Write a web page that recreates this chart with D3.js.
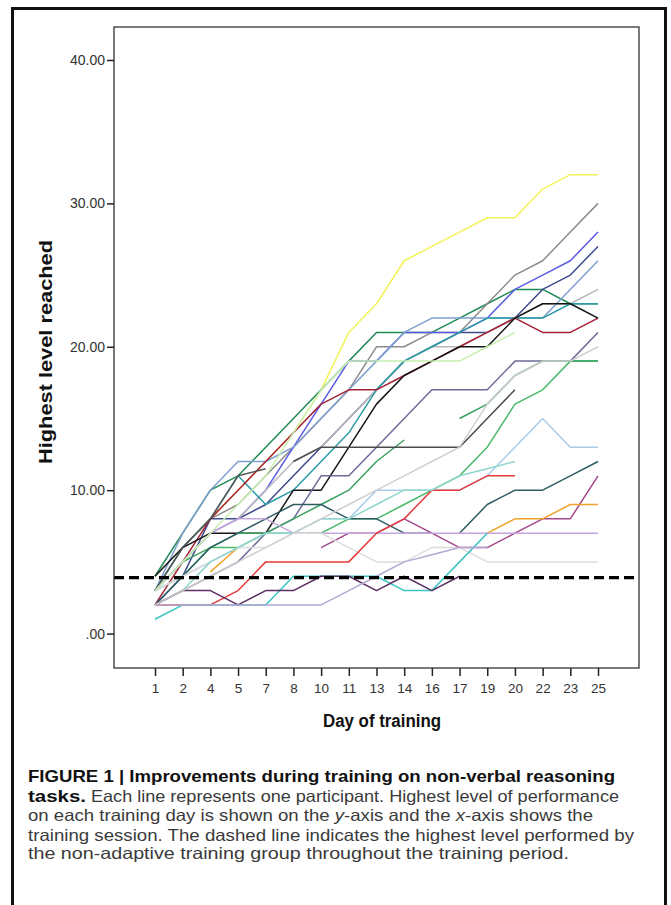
<!DOCTYPE html>
<html><head><meta charset="utf-8">
<script src="https://cdn.jsdelivr.net/npm/d3@7"></script>
<style>
html,body{margin:0;padding:0;background:#fff;}
svg{display:block;}
</style></head>
<body>
<script>
// ---- data ----
const days = [1,2,4,5,7,8,10,11,13,14,16,17,19,20,22,23,25];
const yTicks = [0,10,20,30,40];
const dashedLevel = 3.9;
const N = null;
const seriesNames = ["p01","p02","p03","p04","p05","p06","p07","p08","p09","p10","p11","p12","p13","p14","p15","p16","p17","p18","p19","p20","p21","p22","p23","p24","p25","p26","p27","p28","p29"];
const seriesColors = ["#f2f25a","#1f8a55","#8c8c8c","#5b5be6","#3e4a8c","#7f9fcf","#b8b8b8","#2b9ca6","#a52035","#151515","#6c6c9a","#48b868","#3aa060","#a9cbe9","#2d5c63","#2d5c63","#a3478c","#f0a22a","#c4a6dc","#dcdcdc","#e63a3a","#8fd6cc","#4a4a4a","#3cc3c3","#5a2f62","#b7a7d3","#555555","#c8eeb0","#cfcfcf"];
const seriesValues = [
  [3,6,8,10,12,14,17,21,23,26,27,28,29,29,31,32,32],
  [4,7,10,11,13,15,17,19,21,21,21,22,23,24,24,23,23],
  [3,6,8,9,11,13,15,17,20,20,21,21,23,25,26,28,30],
  [3,5,7,8,10,13,16,19,19,21,21,21,22,24,25,26,28],
  [2,4,8,8,9,11,13,15,17,19,20,21,21,22,24,25,27],
  [3,7,10,12,12,13,15,17,19,21,22,22,22,22,22,24,26],
  [3,5,7,8,10,12,13,15,17,19,20,20,21,22,23,23,24],
  [3,6,8,11,9,10,12,14,17,19,20,21,22,22,22,23,23],
  [2,5,8,10,12,14,16,17,17,18,19,20,21,22,21,21,22],
  [4,6,7,7,7,10,10,13,16,18,19,20,20,22,23,23,22],
  [2,3,4,5,7,8,11,11,13,15,17,17,17,19,19,19,21],
  [3,4,6,6,7,7,7,8,8,9,10,11,13,16,17,19,19],
  [3,5,6,7,7,8,9,10,12,13.5,N,15,16,18,19,19,19],
  [3,4,5,6,7,7,8,8,10,10,10,10,11,13,15,13,13],
  [2,4,6,7,8,9,9,8,8,7,7,N,N,N,N,N,N],
  [N,N,N,N,N,N,N,N,N,N,N,7,9,10,10,11,12],
  [N,N,N,N,N,N,6,7,7,8,7,6,6,7,8,8,11],
  [N,N,4.3,6,N,N,N,N,N,N,N,N,7,8,8,9,9],
  [3,5,7,8,8,7,7,7,7,7,7,7,7,7,7,7,7],
  [3,4,5,6,6,7,7,6,5,5,6,6,5,5,5,5,5],
  [2,2,2,3,5,5,5,5,7,8,10,10,11,11,N,N,N],
  [2,3,5,6,7,7,8,8,9,10,10,11,11.5,12,N,N,N],
  [N,N,N,N,N,12,13,13,13,13,13,13,15,17,N,N,N],
  [1,2,2,2,2,4,4,4,4,3,3,5,7,N,N,N,N],
  [2,3,3,2,3,3,4,4,3,4,3,4,N,N,N,N,N],
  [2,2,2,2,2,2,2,3,4,5,5.5,6,6,N,N,N,N],
  [3,6,8,11,11.5,N,N,N,N,N,N,N,N,N,N,N,N],
  [3,5,7,9,11,14,17,19,19,19,19,19,20,21,N,N,N],
  [2,3,4,5,6,7,8,9,10,11,12,13,16,18,19,19,20]
];
const yTitle = "Highest level reached";
const xTitle = "Day of training";
const captionBold1 = "FIGURE 1 | Improvements during training on non-verbal reasoning";
const captionBold2 = "tasks.";
const captionRest = [
  " Each line represents one participant. Highest level of performance",
  "on each training day is shown on the y-axis and the x-axis shows the",
  "training session. The dashed line indicates the highest level performed by",
  "the non-adaptive training group throughout the training period."
];

// ---- layout ----
const W = 671, H = 905;
const plot = {l:114, r:639, t:27, b:668};

const svg = d3.select("body").append("svg").attr("width", W).attr("height", H);

// outer frame
svg.append("rect").attr("x",12.5).attr("y",8.5).attr("width",653).attr("height",910)
  .attr("fill","none").attr("stroke","#111").attr("stroke-width",3);

const x = d3.scalePoint().domain(days).range([plot.l, plot.r]).padding(1.48);
const y = d3.scaleLinear().domain([-2.4, 42.3]).range([plot.b, plot.t]);

svg.append("defs").append("clipPath").attr("id","clip")
  .append("rect").attr("x",plot.l).attr("y",plot.t).attr("width",plot.r-plot.l).attr("height",plot.b-plot.t);

const g = svg.append("g").attr("clip-path","url(#clip)");

const line = d3.line()
  .defined(d => d.v != null)
  .x(d => x(d.day))
  .y(d => y(d.v));

seriesValues.forEach((vals, i) => {
  const pts = vals.map((v, j) => ({day: days[j], v}));
  g.append("path")
    .datum(pts)
    .attr("class","series " + seriesNames[i])
    .attr("fill","none")
    .attr("stroke", seriesColors[i])
    .attr("stroke-width", 1.5)
    .attr("stroke-linejoin","round")
    .attr("d", line);
});

// dashed reference line
g.append("line")
  .attr("x1", plot.l).attr("x2", plot.r)
  .attr("y1", y(dashedLevel)).attr("y2", y(dashedLevel))
  .attr("stroke","#000").attr("stroke-width",3.2)
  .attr("stroke-dasharray","10,5");

// plot box
svg.append("rect").attr("x",plot.l).attr("y",plot.t)
  .attr("width",plot.r-plot.l).attr("height",plot.b-plot.t)
  .attr("fill","none").attr("stroke","#333").attr("stroke-width",1.3);

// axes
const yAxis = d3.axisLeft(y).tickValues(yTicks)
  .tickFormat(d => d === 0 ? ".00" : d.toFixed(2))
  .tickSize(7).tickPadding(2);
const ya = svg.append("g").attr("transform",`translate(${plot.l},0)`).call(yAxis);
ya.select(".domain").remove();
ya.selectAll(".tick line").attr("stroke","#222").attr("stroke-width",1.5);
ya.selectAll(".tick text").attr("font-family","'Liberation Sans', Arial, sans-serif")
  .attr("font-size",14).attr("fill","#333");

const xAxis = d3.axisBottom(x).tickSize(8).tickPadding(7);
const xa = svg.append("g").attr("transform",`translate(0,${plot.b})`).call(xAxis);
xa.select(".domain").remove();
xa.selectAll(".tick line").attr("stroke","#222").attr("stroke-width",1.5);
xa.selectAll(".tick text").attr("font-family","'Liberation Sans', Arial, sans-serif")
  .attr("font-size",13.5).attr("fill","#333");

// axis titles
svg.append("text")
  .attr("transform",`translate(52,352) rotate(-90)`)
  .attr("text-anchor","middle")
  .attr("font-family","'Liberation Sans', Arial, sans-serif")
  .attr("font-weight","bold").attr("font-size",19).attr("fill","#111")
  .attr("textLength", 224).attr("lengthAdjust","spacingAndGlyphs")
  .text(yTitle);

svg.append("text")
  .attr("x", 382).attr("y", 727)
  .attr("text-anchor","middle")
  .attr("font-family","'Liberation Sans', Arial, sans-serif")
  .attr("font-weight","bold").attr("font-size",18).attr("fill","#111")
  .attr("textLength", 118).attr("lengthAdjust","spacingAndGlyphs")
  .text(xTitle);

// caption
const capFont = "'Liberation Sans Narrow','Liberation Sans',Arial,sans-serif";
const capX = 28;
const baselines = [782, 802, 821, 841, 859];
svg.append("text").attr("x",capX).attr("y",baselines[0])
  .attr("font-family",capFont).attr("font-weight","bold").attr("font-size",16.5).attr("fill","#111")
  .attr("textLength", 587).attr("lengthAdjust","spacingAndGlyphs")
  .text(captionBold1);
svg.append("text").attr("x",capX).attr("y",baselines[1])
  .attr("font-family",capFont).attr("font-weight","bold").attr("font-size",16.5).attr("fill","#111")
  .attr("textLength", 58).attr("lengthAdjust","spacingAndGlyphs")
  .text(captionBold2);
const restEnds = [619, 593, 634, 569];
const restStarts = [86, capX, capX, capX];
captionRest.forEach((t, i) => {
  const el = svg.append("text").attr("x", restStarts[i]).attr("y", baselines[i+1])
    .attr("font-family",capFont).attr("font-size",16.5).attr("fill","#3a3a3a")
    .attr("textLength", restEnds[i] - restStarts[i]).attr("lengthAdjust","spacingAndGlyphs")
    .attr("xml:space","preserve");
  if (i === 1) {
    el.append("tspan").text("on each training day is shown on the ");
    el.append("tspan").attr("font-style","italic").text("y");
    el.append("tspan").text("-axis and the ");
    el.append("tspan").attr("font-style","italic").text("x");
    el.append("tspan").text("-axis shows the");
  } else {
    el.text(t);
  }
});
</script>
</body></html>
